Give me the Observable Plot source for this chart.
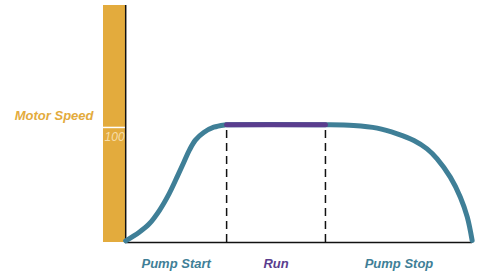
<!DOCTYPE html>
<html><head><meta charset="utf-8">
<script src="https://cdn.jsdelivr.net/npm/d3@7"></script>
<script src="https://cdn.jsdelivr.net/npm/@observablehq/plot@0.6"></script>
<style>
html,body{margin:0;padding:0;background:#fff;}
</style>
</head><body>
<div id="chart"></div>
<script>
// Motor speed curve (time units 0..100, speed % of rated)
const curveT = [0, 3.9, 6.8, 9.7, 12.5, 14.9, 16.8, 18.4, 20.1, 22.5, 25.4, 28.8, 29.1, 57.6, 65.7, 72.5, 78.3, 83.1, 86.9, 89.8, 93.6, 96.5, 98.5, 99.9];
const curveV = [1.5, 9.0, 16.3, 27.8, 42.3, 57.5, 70.0, 80.5, 89.0, 95.6, 100.2, 102.3, 102.4, 102.4, 101.7, 99.4, 94.5, 88.7, 81.4, 72.7, 56.8, 39.4, 22.0, 1.7];
// Phases
const phases = ["Pump Start", "Run", "Pump Stop"];
const phaseBounds = [0, 29.1, 57.6, 100];
const phaseColors = ["#3f7f97", "#5a3d8e", "#3f7f97"];
const runLevel = 102.4;
const yTicks = [100];
const yLabel = "Motor Speed";

const curve = curveT.map((t, i) => ({t, v: curveV[i]}));
const run = curve.filter(d => d.t >= phaseBounds[1] && d.t <= phaseBounds[2]);
const phaseData = phases.map((p, i) => ({name: p, mid: (phaseBounds[i] + phaseBounds[i + 1]) / 2, color: phaseColors[i]}));
const xMin = -6.4, yMax = 206;

const font = "'Liberation Sans Narrow', 'Arial Narrow', 'Liberation Sans', sans-serif";

const chart = Plot.plot({
  width: 480, height: 273,
  margin: 0,
  x: {domain: [xMin, 100], range: [103, 472], axis: null},
  y: {domain: [0, yMax], range: [242, 5], axis: null},
  style: {fontFamily: font, background: "#fff"},
  marks: [
    Plot.rect([{}], {x1: xMin, x2: 0, y1: 0, y2: yMax, fill: "#e3ab3d"}),
    Plot.ruleY(yTicks, {x1: xMin, x2: 0, stroke: "#fff", strokeWidth: 1.5}),
    Plot.text(yTicks, {x: xMin / 2, y: d => d, text: d => String(d), dy: 10, fill: "#f6ddaa", fontSize: 12, fontStyle: "italic"}),
    Plot.text([yLabel], {x: xMin, y: 110, text: d => d, dx: -10, textAnchor: "end", fill: "#e3ab3d", fontSize: 13, fontWeight: "bold", fontStyle: "italic"}),
    Plot.ruleX(phaseBounds.slice(1, 3), {y1: 0, y2: runLevel, stroke: "#111", strokeWidth: 1.5, strokeDasharray: "8,5"}),
    Plot.ruleX([0], {y1: 0, y2: yMax, stroke: "#111", strokeWidth: 1.5}),
    Plot.ruleY([0], {x1: 0, x2: 100, stroke: "#111", strokeWidth: 1.5}),
    Plot.line(curve, {x: "t", y: "v", curve: "catmull-rom", stroke: "#3f7f97", strokeWidth: 5}),
    Plot.line(run, {x: "t", y: "v", stroke: "#5a3d8e", strokeWidth: 5}),
    Plot.text(phaseData, {x: "mid", y: 0, text: "name", fill: "color", dy: 21, fontSize: 13, fontWeight: "bold", fontStyle: "italic"})
  ]
});
document.getElementById("chart").appendChild(chart);
</script>
</body></html>
